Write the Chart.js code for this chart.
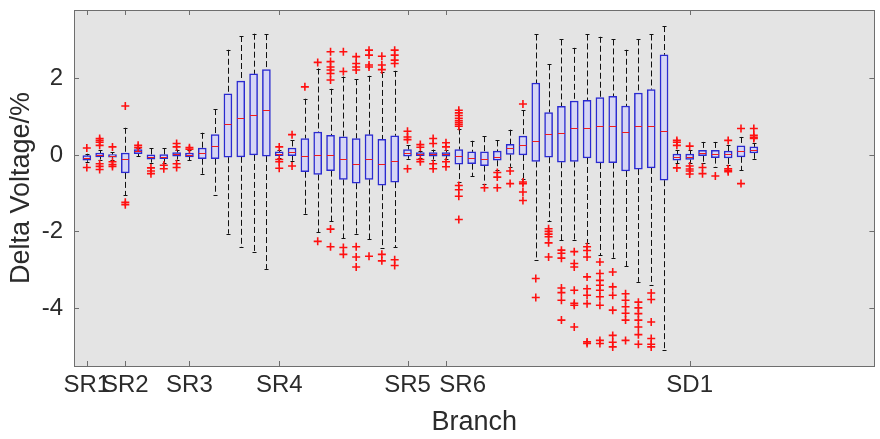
<!DOCTYPE html>
<html>
<head>
<meta charset="utf-8">
<title>Delta Voltage by Branch</title>
<script src="https://cdn.jsdelivr.net/npm/chart.js@4.4.1/dist/chart.umd.min.js"></script>
<style>
  html, body { margin: 0; padding: 0; background: #fff; }
  #boxChart { display: block; }
</style>
</head>
<body>
<canvas id="boxChart" width="880" height="439"></canvas>
<script>
// DATA (one entry per box, box n sits at x = n)
const tickPos = [1, 4, 9, 16, 26, 29, 48];
const tickLabels = ["SR1", "SR2", "SR3", "SR4", "SR5", "     SR6", "SD1"];

const whiskLow = [-0.18,-0.12,-0.12,-1.05,-0.03,-0.2,-0.2,-0.12,-0.14,-0.51,
  -1.04,-2.06,-2.41,-2.55,-2.98,-0.08,-0.15,-1.55,-2.02,-1.73,
  -2.18,-2.06,-2.21,-2.43,-2.42,-0.1,-0.08,-0.12,-0.1,-0.72,
  -0.55,-0.75,-0.4,-0.31,-0.62,-2.75,-1.73,-2.23,-2.23,-2.3,
  -2.62,-2.69,-2.91,-3.32,-3.41,-5.11,-0.22,-0.22,-0.21,-0.31,
  -0.27,-0.4,-0.1];
const q1 = [-0.14,-0.05,-0.06,-0.47,0.03,-0.11,-0.1,-0.03,-0.05,-0.1,
  -0.1,-0.06,-0.05,0.0,-0.03,-0.02,-0.02,-0.44,-0.51,-0.41,
  -0.64,-0.74,-0.64,-0.79,-0.71,-0.03,-0.02,-0.03,-0.03,-0.24,
  -0.23,-0.28,-0.14,0.01,0.0,-0.17,-0.06,-0.19,-0.17,-0.08,
  -0.21,-0.2,-0.42,-0.37,-0.34,-0.66,-0.14,-0.12,-0.02,-0.07,
  -0.08,-0.05,0.05];
const median = [-0.08,0.0,-0.03,-0.11,0.09,-0.05,-0.05,0.02,0.01,0.05,
  0.23,0.8,0.97,1.04,1.17,0.03,0.08,-0.02,0.01,0.01,
  -0.1,-0.24,-0.11,-0.25,-0.16,0.06,0.03,0.02,0.02,-0.03,
  -0.09,-0.11,-0.05,0.19,0.26,0.37,0.56,0.58,0.7,0.71,
  0.75,0.75,0.61,0.76,0.76,0.62,-0.06,-0.05,0.05,0.02,
  0.02,0.1,0.14];
const q3 = [-0.02,0.05,0.01,0.05,0.14,0.0,0.01,0.06,0.05,0.18,
  0.53,1.6,1.93,2.12,2.23,0.08,0.18,0.43,0.6,0.51,
  0.47,0.43,0.53,0.41,0.5,0.14,0.06,0.06,0.06,0.14,
  0.08,0.08,0.1,0.28,0.49,1.88,1.11,1.27,1.41,1.43,
  1.5,1.53,1.28,1.62,1.71,2.62,0.02,0.02,0.12,0.12,
  0.1,0.24,0.21];
const whiskHigh = [0.03,0.12,0.07,0.71,0.17,0.17,0.17,0.14,0.12,0.58,
  1.2,2.75,3.11,3.17,3.16,0.14,0.38,1.47,2.26,1.73,
  2.05,1.98,2.07,2.17,2.2,0.25,0.1,0.14,0.12,0.69,
  0.37,0.49,0.38,0.66,1.17,3.15,2.37,3.02,2.8,3.15,
  3.09,3.02,2.75,3.02,3.15,3.37,0.12,0.12,0.34,0.34,
  0.25,0.47,0.3];
const outliers = [
  [0.18,-0.33],
  [0.43,0.38,0.33,0.25,-0.23,-0.3,-0.38],
  [0.21,-0.18,-0.25,-0.3],
  [1.28,-1.24,-1.3],
  [0.25,0.19],
  [-0.34,-0.42,-0.49],
  [-0.27,-0.36],
  [0.3,0.21,-0.23,-0.33],
  [0.19,0.15],
  [],
  [], [], [], [], [],
  [0.21,-0.12,-0.18,-0.35],
  [0.53,-0.29],
  [1.78],
  [2.42,-2.26],
  [2.7,2.44,2.3,2.22,2.13,1.96,-1.94,-2.4],
  [2.7,2.18,-2.42,-2.6],
  [2.57,2.39,2.3,2.22,-2.4,-2.67,-2.93],
  [2.74,2.61,2.35,2.3,-2.65],
  [2.58,2.35,2.23,-2.6,-2.77],
  [2.74,2.61,2.48,2.39,-2.74,-2.89],
  [0.62,0.47,0.4,-0.36],
  [0.27,0.2,-0.12,-0.18],
  [0.43,0.3,-0.23,-0.36],
  [0.32,0.21,-0.18,-0.31],
  [1.17,1.1,1.03,0.96,0.9,0.85,0.8,0.75,-0.8,-0.91,-1.08,-1.69],
  [],
  [-0.86],
  [-0.46,-0.58,-0.86],
  [-0.42,-0.75],
  [1.33,-0.71,-0.75,-0.97,-1.19],
  [-3.23,-3.73],
  [-1.93,-2.0,-2.07,-2.14,-2.3,-2.67],
  [-2.49,-2.57,-2.7,-3.48,-3.6,-3.8,-4.32],
  [-2.53,-2.84,-2.93,-3.54,-3.88,-3.93,-4.5],
  [-2.4,-2.5,-2.67,-3.19,-3.5,-3.67,-3.89,-4.89,-4.93],
  [-2.8,-3.1,-3.28,-3.41,-3.54,-3.71,-3.93,-4.85,-4.93],
  [-3.06,-3.45,-3.67,-4.06,-4.72,-4.9,-5.02],
  [-3.63,-3.8,-3.97,-4.14,-4.32,-4.85],
  [-3.85,-4.0,-4.15,-4.32,-4.5,-4.7,-4.95],
  [-3.61,-3.78,-4.37,-4.8,-4.95,-5.02],
  [],
  [0.38,0.33,0.25,-0.34],
  [0.23,-0.29,-0.37,-0.42,-0.5],
  [-0.33,-0.49],
  [-0.55],
  [0.38,-0.36,-0.4,-0.44],
  [0.69,-0.75],
  [0.69,0.51,0.46,0.43]
];

// COLORS
const plotBg = "#e4e4e4";
const frameColor = "#6e6e6e";
const textColor = "#2b2b2b";
const boxFill = "#d6d6f4";
const boxLine = "#2a2ad0";
const medianColor = "#f01c1c";
const outlierColor = "#ff1010";
const fontFamily = "'Liberation Sans', Arial, sans-serif";

const positions = q1.map((_, i) => i + 1);
const boxData = positions.map((p, i) => ({ x: p, y: [q1[i], q3[i]] }));
const outlierData = [];
outliers.forEach((vals, i) => {
  vals.forEach((v) => outlierData.push({ x: positions[i], y: v }));
});

const crisp = (v) => Math.round(v) + 0.5;

// whiskers, medians, frame and inward ticks, all placed through the scales
const boxParts = {
  id: "boxParts",
  beforeDraw(chart) {
    const { ctx, chartArea: a } = chart;
    ctx.save();
    ctx.fillStyle = "#ffffff";
    ctx.fillRect(0, 0, chart.width, chart.height);
    ctx.fillStyle = plotBg;
    ctx.fillRect(a.left, a.top, a.right - a.left, a.bottom - a.top);
    ctx.restore();
  },
  beforeDatasetsDraw(chart) {
    const { ctx } = chart;
    const xs = chart.scales.x;
    const ys = chart.scales.y;
    ctx.save();
    ctx.strokeStyle = "#111111";
    ctx.lineWidth = 1;
    positions.forEach((p, i) => {
      const x = crisp(xs.getPixelForValue(p));
      ctx.setLineDash([6, 3]);
      ctx.beginPath();
      ctx.moveTo(x, ys.getPixelForValue(whiskHigh[i]));
      ctx.lineTo(x, ys.getPixelForValue(q3[i]));
      ctx.moveTo(x, ys.getPixelForValue(q1[i]));
      ctx.lineTo(x, ys.getPixelForValue(whiskLow[i]));
      ctx.stroke();
      ctx.setLineDash([]);
      ctx.beginPath();
      const yh = crisp(ys.getPixelForValue(whiskHigh[i]));
      const yl = crisp(ys.getPixelForValue(whiskLow[i]));
      ctx.moveTo(x - 2, yh);
      ctx.lineTo(x + 2, yh);
      ctx.moveTo(x - 2, yl);
      ctx.lineTo(x + 2, yl);
      ctx.stroke();
    });
    ctx.restore();
  },
  afterDatasetDraw(chart, args) {
    if (args.index !== 0) return;
    const { ctx } = chart;
    const xs = chart.scales.x;
    const ys = chart.scales.y;
    ctx.save();
    ctx.strokeStyle = medianColor;
    ctx.lineWidth = 1;
    positions.forEach((p, i) => {
      const x = xs.getPixelForValue(p);
      const y = crisp(ys.getPixelForValue(median[i]));
      ctx.beginPath();
      ctx.moveTo(x - 3.5, y);
      ctx.lineTo(x + 3.5, y);
      ctx.stroke();
    });
    ctx.restore();
  },
  afterDatasetsDraw(chart) {
    const { ctx, chartArea: a } = chart;
    const xs = chart.scales.x;
    const ys = chart.scales.y;
    const len = 5;
    ctx.save();
    ctx.strokeStyle = frameColor;
    ctx.lineWidth = 1;
    ctx.beginPath();
    xs.ticks.forEach((t) => {
      const x = crisp(xs.getPixelForValue(t.value));
      ctx.moveTo(x, a.bottom);
      ctx.lineTo(x, a.bottom - len);
      ctx.moveTo(x, a.top);
      ctx.lineTo(x, a.top + len);
    });
    ys.ticks.forEach((t) => {
      const y = crisp(ys.getPixelForValue(t.value));
      ctx.moveTo(a.left, y);
      ctx.lineTo(a.left + len, y);
      ctx.moveTo(a.right, y);
      ctx.lineTo(a.right - len, y);
    });
    ctx.stroke();
    ctx.strokeRect(crisp(a.left), crisp(a.top), Math.round(a.right - a.left), Math.round(a.bottom - a.top));
    ctx.restore();
  },
};

const ctx = document.getElementById("boxChart").getContext("2d");

new Chart(ctx, {
  type: "bar",
  data: {
    datasets: [
      {
        label: "Box",
        data: boxData,
        backgroundColor: boxFill,
        borderColor: boxLine,
        borderWidth: 1.5,
        borderSkipped: false,
        barThickness: 8,
        order: 2,
      },
      {
        type: "scatter",
        label: "Outliers",
        data: outlierData,
        pointStyle: "cross",
        pointRadius: 4,
        borderColor: outlierColor,
        backgroundColor: outlierColor,
        borderWidth: 1.6,
        order: 1,
      },
    ],
  },
  options: {
    responsive: false,
    devicePixelRatio: 1,
    animation: false,
    events: [],
    layout: { padding: { top: 10, right: 1, bottom: 0, left: 0 } },
    plugins: {
      legend: { display: false },
      tooltip: { enabled: false },
    },
    scales: {
      x: {
        type: "linear",
        min: 0,
        max: 62.4,
        offset: false,
        grid: { display: false, drawTicks: false },
        border: { display: false },
        afterBuildTicks: (scale) => {
          scale.ticks = tickPos.map((v) => ({ value: v }));
        },
        afterFit: (scale) => {
          scale.height = 73;
          scale.paddingLeft = 0;
          scale.paddingRight = 0;
        },
        ticks: {
          autoSkip: false,
          maxRotation: 0,
          padding: 5,
          color: textColor,
          font: { family: fontFamily, size: 24 },
          callback: (v, i) => tickLabels[i],
        },
        title: {
          display: true,
          text: "Branch",
          color: textColor,
          font: { family: fontFamily, size: 27 },
          padding: { top: 0, bottom: 0 },
        },
      },
      y: {
        min: -5.52,
        max: 3.79,
        grid: { display: false, drawTicks: false },
        border: { display: false },
        afterFit: (scale) => {
          scale.width = 74;
          scale.paddingTop = 0;
          scale.paddingBottom = 0;
        },
        ticks: {
          stepSize: 2,
          includeBounds: false,
          padding: 11,
          color: textColor,
          font: { family: fontFamily, size: 24 },
          callback: (v) => String(v),
        },
        title: {
          display: true,
          text: "Delta Voltage/%",
          color: textColor,
          font: { family: fontFamily, size: 27 },
          padding: { top: 5, bottom: 0 },
        },
      },
    },
  },
  plugins: [boxParts],
});
</script>
</body>
</html>
